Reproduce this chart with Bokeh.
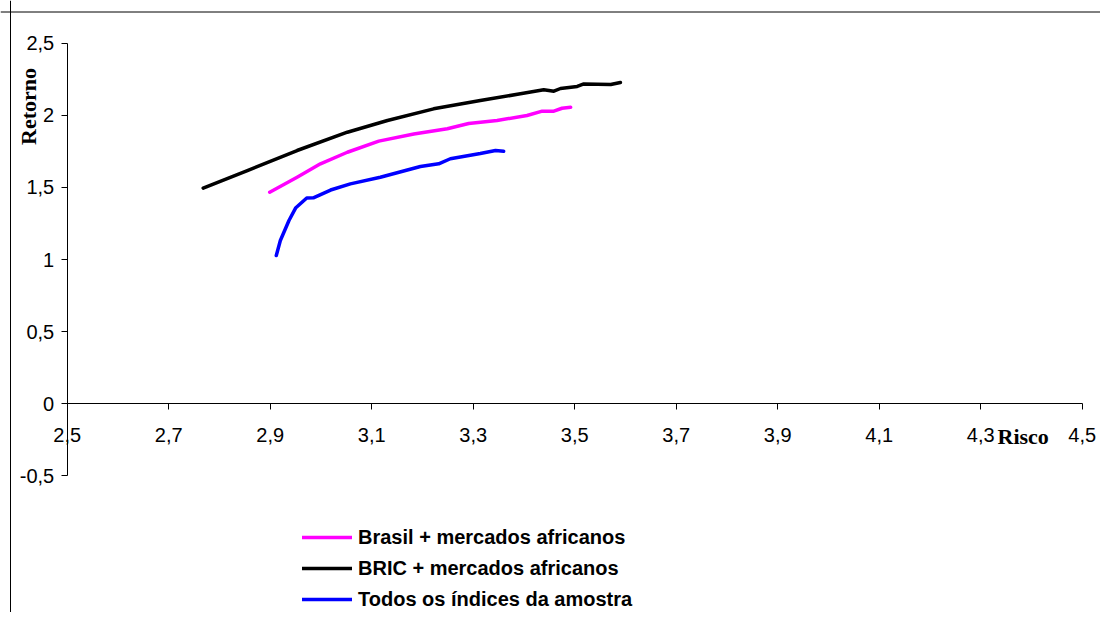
import math
from bokeh.plotting import figure
from bokeh.models import Range1d, LinearAxis, FixedTicker, Span, Label, Legend, LegendItem
from bokeh.embed import file_html
from bokeh.resources import INLINE

# ---------------- data ----------------
series_names = ["Brasil + mercados africanos", "BRIC + mercados africanos", "Todos os índices da amostra"]

brasil_risco = [2.899, 2.953, 2.999, 3.052, 3.114, 3.183, 3.249, 3.291, 3.347, 3.406, 3.436, 3.459, 3.475, 3.492]
brasil_retorno = [1.467, 1.571, 1.664, 1.744, 1.821, 1.871, 1.907, 1.943, 1.964, 1.999, 2.029, 2.029, 2.049, 2.056]

bric_risco = [2.768, 2.855, 2.953, 3.052, 3.131, 3.222, 3.314, 3.393, 3.439, 3.459, 3.472, 3.505, 3.518, 3.571, 3.590]
bric_retorno = [1.495, 1.617, 1.756, 1.883, 1.964, 2.045, 2.103, 2.149, 2.177, 2.167, 2.186, 2.200, 2.218, 2.214, 2.228]

todos_risco = [2.912, 2.920, 2.937, 2.950, 2.972, 2.985, 3.019, 3.058, 3.117, 3.196, 3.232, 3.255, 3.314, 3.344, 3.360]
todos_retorno = [1.028, 1.132, 1.271, 1.357, 1.427, 1.428, 1.482, 1.525, 1.571, 1.645, 1.664, 1.699, 1.735, 1.756, 1.751]

x_ticks = [2.5, 2.7, 2.9, 3.1, 3.3, 3.5, 3.7, 3.9, 4.1, 4.3, 4.5]
x_tick_labels = ["2,5", "2,7", "2,9", "3,1", "3,3", "3,5", "3,7", "3,9", "4,1", "4,3", "4,5"]
y_ticks = [-0.5, 0, 0.5, 1, 1.5, 2, 2.5]
y_tick_labels = ["-0,5", "0", "0,5", "1", "1,5", "2", "2,5"]

x_title = "Risco"
y_title = "Retorno"

# ---------------- layout constants ----------------
W, H = 1100, 612
X_PX0 = 66.7        # canvas px of x = 2.5
X_SCALE = 507.5     # px per unit
Y_PX0 = 403.3       # canvas px of y = 0
Y_SCALE = 144.24    # px per unit

x_start = x_ticks[0] - X_PX0 / X_SCALE
x_end = x_start + W / X_SCALE
y_end = Y_PX0 / Y_SCALE
y_start = y_end - H / Y_SCALE

def dx(px):
    return x_start + px / X_SCALE

def dy(py):
    return y_end - py / Y_SCALE

p = figure(width=W, height=H, x_range=Range1d(x_start, x_end), y_range=Range1d(y_start, y_end),
           output_backend="svg", toolbar_location=None,
           x_axis_location=None, y_axis_location=None, min_border=0)
p.grid.visible = False
p.outline_line_color = None
p.background_fill_color = "white"
p.border_fill_color = "white"

TICK_FONT = "Liberation Sans"
TICK_SIZE = "20px"

xaxis = LinearAxis(fixed_location=0, bounds=(x_ticks[0], x_ticks[-1]),
                   ticker=FixedTicker(ticks=x_ticks),
                   major_label_overrides=dict(zip(x_ticks, x_tick_labels)))
yaxis = LinearAxis(fixed_location=x_ticks[0], bounds=(y_ticks[0], y_ticks[-1]),
                   ticker=FixedTicker(ticks=y_ticks),
                   major_label_overrides=dict(zip(y_ticks, y_tick_labels)))
for ax in (xaxis, yaxis):
    ax.axis_line_color = "black"
    ax.axis_line_width = 1
    ax.major_tick_line_color = "black"
    ax.major_tick_in = 0
    ax.major_tick_out = 6
    ax.minor_tick_line_color = None
    ax.major_label_text_font = TICK_FONT
    ax.major_label_text_font_size = TICK_SIZE
    ax.major_label_text_color = "black"
xaxis.major_label_standoff = 18
yaxis.major_label_standoff = 7
p.add_layout(xaxis, "below")
p.add_layout(yaxis, "left")

# outer chart border (top and left edges visible)
p.add_layout(Span(location=dx(10), dimension="height", line_color="black", line_width=1))
p.add_layout(Span(location=dy(11.5), dimension="width", line_color="black", line_width=1))

r1 = p.line(brasil_risco, brasil_retorno, line_color="#FF00FF", line_width=3.5, line_join="round", line_cap="round")
r2 = p.line(bric_risco, bric_retorno, line_color="#000000", line_width=3.5, line_join="round", line_cap="round")
r3 = p.line(todos_risco, todos_retorno, line_color="#0000FF", line_width=3.5, line_join="round", line_cap="round")

p.add_layout(Label(x=dx(28), y=dy(106), text=y_title, angle=math.pi / 2,
                   text_font="Liberation Serif", text_font_style="bold", text_font_size="22px",
                   text_align="center", text_baseline="middle", text_color="black"))
p.add_layout(Label(x=dx(997), y=dy(436), text=x_title,
                   text_font="Liberation Serif", text_font_style="bold", text_font_size="22px",
                   text_align="left", text_baseline="middle", text_color="black"))

legend = Legend(items=[LegendItem(label=series_names[0], renderers=[r1]),
                       LegendItem(label=series_names[1], renderers=[r2]),
                       LegendItem(label=series_names[2], renderers=[r3])],
                location=(302, 1), orientation="vertical",
                glyph_width=50, glyph_height=24, label_height=24, label_standoff=6,
                spacing=7, padding=0, margin=0,
                border_line_color=None, background_fill_alpha=0,
                label_text_font=TICK_FONT, label_text_font_style="bold",
                label_text_font_size="20px", label_text_color="black")
p.add_layout(legend, "center")

open("out.html", "w").write(file_html(p, INLINE))
